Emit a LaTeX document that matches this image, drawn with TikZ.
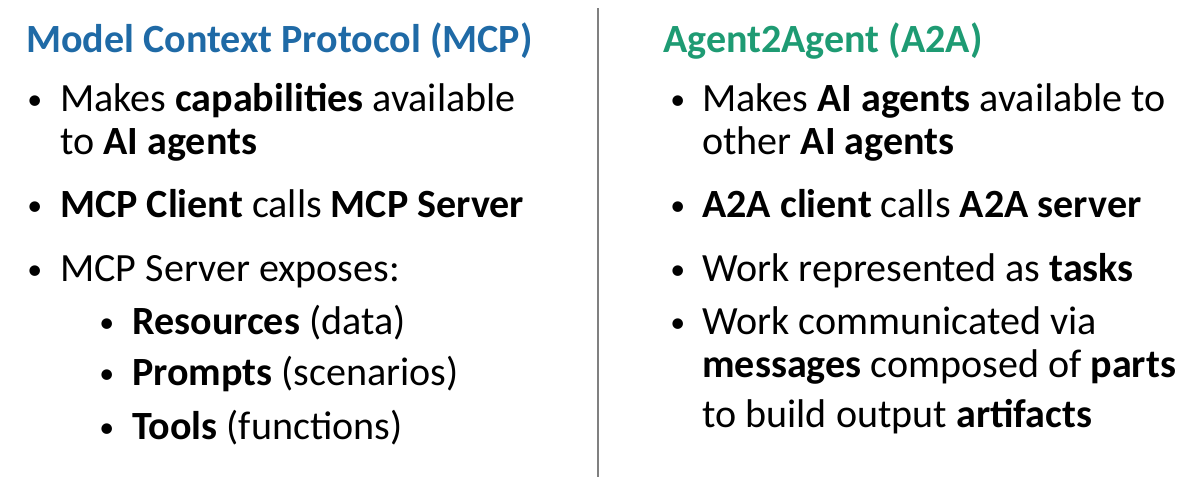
\documentclass[tikz,border=0pt]{standalone}
\usepackage{fontspec}
\setmainfont{Carlito}
\definecolor{mcpblue}{RGB}{31,106,166}
\definecolor{agreen}{RGB}{30,155,115}
\begin{document}
\begin{tikzpicture}[x=0.02cm,y=-0.02cm,
  every node/.style={inner sep=0pt,anchor=base west,font=\fontsize{22.8}{26}\selectfont},
  title/.style={font=\fontsize{22.8}{26}\selectfont\bfseries},
  dot/.style={font=\fontsize{17}{20}\selectfont}]
\useasboundingbox (0,0) rectangle (1198,477);
\draw [gray,line width=1pt] (598,8) -- (598,477);
% left column
\node [title,text=mcpblue] (mcptitle) at (26,52) {Model Context Protocol (MCP)};
\node [dot] (b1) at (27,109) {\textbullet};
\node (l1) at (60,111) {Makes \textbf{capabilities} available};
\node (l1b) at (60,154) {to \textbf{AI agents}};
\node [dot] (b2) at (27,215) {\textbullet};
\node (l2) at (60,217) {\textbf{MCP Client} calls \textbf{MCP Server}};
\node [dot] (b3) at (27,279) {\textbullet};
\node (l3) at (60,281) {MCP Server exposes:};
\node [dot] (b4) at (99,332) {\textbullet};
\node (l4) at (132,334) {\textbf{Resources} (data)};
\node [dot] (b5) at (99,383) {\textbullet};
\node (l5) at (132,385) {\textbf{Prompts} (scenarios)};
\node [dot] (b6) at (99,437) {\textbullet};
\node (l6) at (132,439) {\textbf{Tools} (functions)};
% right column
\node [title,text=agreen] (a2atitle) at (663,52) {Agent2Agent (A2A)};
\node [dot] (r1) at (670,109) {\textbullet};
\node (m1) at (702,111) {Makes \textbf{AI agents} available to};
\node (m1b) at (702,154) {other \textbf{AI agents}};
\node [dot] (r2) at (670,215) {\textbullet};
\node (m2) at (702,217) {\textbf{A2A client} calls \textbf{A2A server}};
\node [dot] (r3) at (670,279) {\textbullet};
\node (m3) at (702,281) {Work represented as \textbf{tasks}};
\node [dot] (r4) at (670,332) {\textbullet};
\node (m4) at (702,334) {Work communicated via};
\node (m4b) at (702,377) {\textbf{messages} composed of \textbf{parts}};
\node (m4c) at (702,427) {to build output \textbf{artifacts}};
\end{tikzpicture}
\end{document}
